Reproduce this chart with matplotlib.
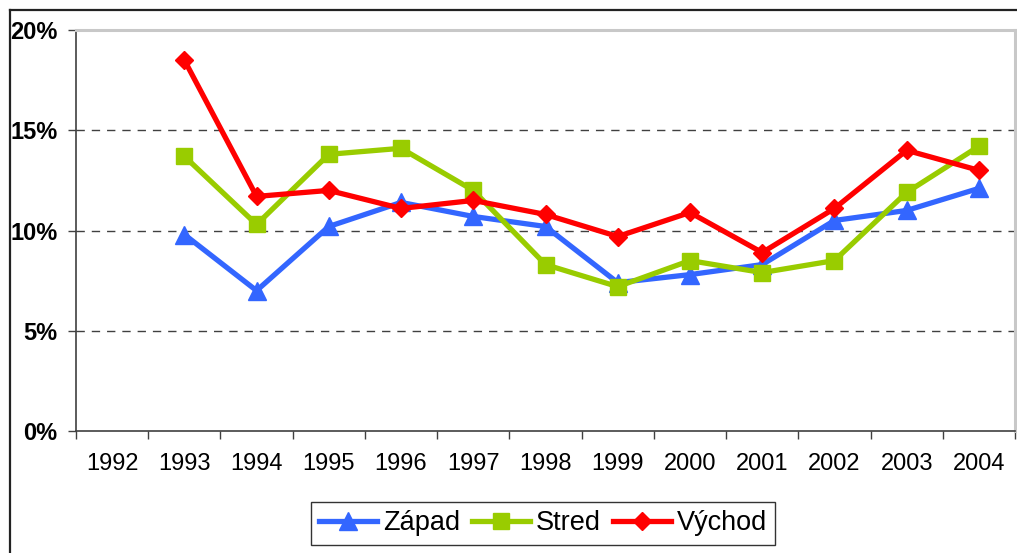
import matplotlib
matplotlib.use("Agg")
import matplotlib.pyplot as plt
from matplotlib.lines import Line2D
import numpy as np

years = ["1992", "1993", "1994", "1995", "1996", "1997", "1998",
         "1999", "2000", "2001", "2002", "2003", "2004"]
data_years = years[1:]
zapad = [9.8, 7.0, 10.2, 11.4, 10.7, 10.2, 7.4, 7.8, 8.3, 10.5, 11.0, 12.1]
stred = [13.7, 10.3, 13.8, 14.1, 12.0, 8.3, 7.2, 8.5, 7.9, 8.5, 11.9, 14.2]
vychod = [18.5, 11.7, 12.0, 11.1, 11.5, 10.8, 9.7, 10.9, 8.9, 11.1, 14.0, 13.0]
yticks = [0, 5, 10, 15, 20]
ytick_labels = ["0%", "5%", "10%", "15%", "20%"]

plt.rcParams['font.family'] = ['Liberation Sans', 'DejaVu Sans']

W, H = 1017, 553
fig = plt.figure(figsize=(W / 100, H / 100), dpi=100)
ax = fig.add_axes([76 / W, 1 - 431 / H, (1015 - 76) / W, (431 - 30) / H])

xpos = np.array([years.index(y) for y in data_years]) + 0.5

series = [
    ("Západ", zapad, "#3366FF", "^", 13),
    ("Stred", stred, "#99CC00", "s", 11.5),
    ("Východ", vychod, "#FF0000", "D", 9.5),
]
for name, vals, col, mk, ms in series:
    ax.plot(xpos, vals, color=col, lw=3.8, marker=mk, markersize=ms,
            markerfacecolor=col, markeredgecolor=col, label=name,
            solid_joinstyle='round', clip_on=False, zorder=3)

ax.set_xlim(0, len(years))
ax.set_ylim(0, 20)

# gridlines
for v in [5, 10, 15]:
    ax.axhline(v, color="#404040", lw=1.0, ls=(0, (6, 5)), zorder=1)

ax.set_yticks(yticks)
ax.set_yticklabels(ytick_labels, fontsize=17, fontweight='bold')
ax.set_xticks(np.arange(0, len(years) + 1))
ax.set_xticklabels([])
ax.set_xticks(np.arange(len(years)) + 0.5, minor=True)
ax.set_xticklabels(years, minor=True, fontsize=17)
ax.tick_params(axis='x', which='major', length=6, width=1, color="#404040", direction='out')
ax.tick_params(axis='x', which='minor', length=0, pad=16)
ax.tick_params(axis='y', length=6, width=1, color="#404040", direction='out', pad=7.5)

for s in ['left', 'bottom']:
    ax.spines[s].set_color("#404040")
    ax.spines[s].set_linewidth(1.2)
for s in ['top', 'right']:
    ax.spines[s].set_color("#C8C8C8")
    ax.spines[s].set_linewidth(2.2)

# outer chart frame (left and top edges visible)
fig.add_artist(Line2D([9.5 / W, 9.5 / W], [0, 1 - 10 / H], color="#222222", lw=1.6,
                      transform=fig.transFigure))
fig.add_artist(Line2D([9.5 / W, 1], [1 - 10 / H, 1 - 10 / H], color="#222222", lw=1.6,
                      transform=fig.transFigure))

leg = fig.legend(loc='center', bbox_to_anchor=(543 / W, 1 - 523.5 / H), ncol=3,
                 fontsize=19.5, frameon=True, fancybox=False, borderpad=0.3,
                 handlelength=2.15, handletextpad=0.2, columnspacing=0.45,
                 borderaxespad=0)
leg.get_frame().set_edgecolor("#000000")
leg.get_frame().set_linewidth(1.0)

fig.savefig("out.png", dpi=100)
